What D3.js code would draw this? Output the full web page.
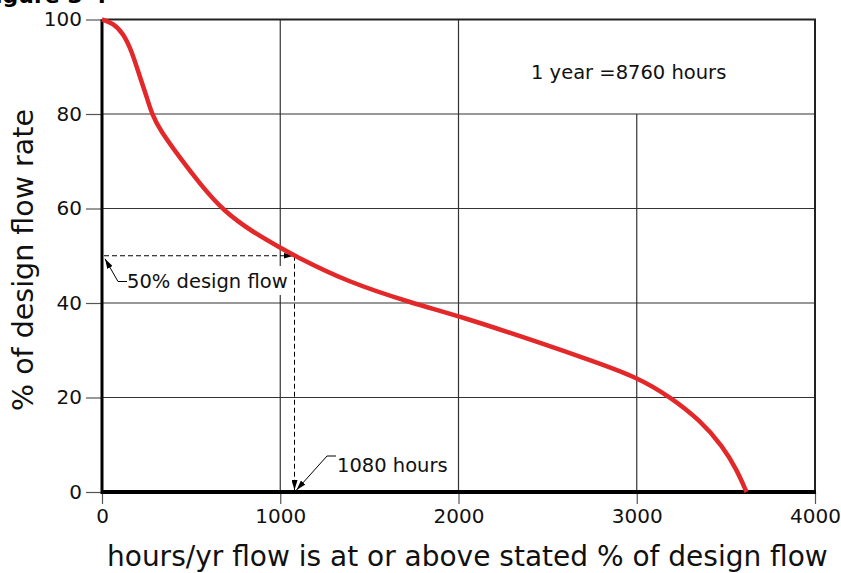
<!DOCTYPE html>
<html><head><meta charset="utf-8">
<script src="https://cdn.jsdelivr.net/npm/d3@7"></script>
<style>html,body{margin:0;padding:0;background:#fff;overflow:hidden}svg{display:block}</style>
</head><body>
<svg id="c" width="841" height="573"></svg>
<script>
const hours = [0,64,120,166,213,251,280,325,438,550,680,850,1000,1080,1373,1746,2008,2457,2738,3009,3187,3355,3484,3561,3616];
const pct   = [100,99.2,97,93.4,87.8,83.6,80,76.6,70.7,65.2,59.5,54.9,51.7,50,44.5,39.9,37.2,31.6,27.9,24.2,20.1,15.2,9.6,4.7,0];
const xTicks = [0,1000,2000,3000,4000];
const yTicks = [0,20,40,60,80,100];
const designPct = 50, designHours = 1080;
const noteText = "1 year =8760 hours";
const xTitle = "hours/yr flow is at or above stated % of design flow";
const yTitle = "% of design flow rate";

const svg = d3.select("#c");
const F = "'DejaVu Sans', Verdana, sans-serif";
const x = d3.scaleLinear().domain([0,4000]).range([102,815]);
const y = d3.scaleLinear().domain([0,100]).range([492,19.5]);

// clipped figure title
svg.append("text").attr("x",-20).attr("y",3).attr("font-family",F).attr("font-weight","bold")
  .attr("font-size",22).text("Figure 3-4");

// grid
const g = svg.append("g");
g.selectAll(".vg").data(xTicks.filter(d=>d>0 && d<4000)).join("line")
  .attr("x1",d=>x(d)).attr("x2",d=>x(d))
  .attr("y1",d=>d===3000?y(80):y(100)).attr("y2",y(0))
  .attr("stroke","#333").attr("stroke-width",1.2);
g.selectAll(".hg").data(yTicks.filter(d=>d>0 && d<100)).join("line")
  .attr("x1",x(0)).attr("x2",x(4000)).attr("y1",d=>y(d)).attr("y2",d=>y(d))
  .attr("stroke","#333").attr("stroke-width",1.2);
g.append("line").attr("x1",x(0)).attr("x2",x(4000)+1).attr("y1",y(100)).attr("y2",y(100)).attr("stroke","#222").attr("stroke-width",2);
g.append("line").attr("x1",x(4000)).attr("x2",x(4000)).attr("y1",y(100)).attr("y2",y(0)).attr("stroke","#222").attr("stroke-width",2);

// y axis
const ya = svg.append("g").attr("transform",`translate(${x(0)},0)`)
  .call(d3.axisLeft(y).tickValues(yTicks).tickFormat(d3.format("d")).tickSize(16).tickPadding(4));
ya.select(".domain").remove();
ya.selectAll(".tick line").attr("stroke","#555").attr("stroke-width",1.2);
ya.selectAll(".tick text").attr("font-family",F).attr("font-size",20).attr("fill","#111");

// x axis
const xa = svg.append("g").attr("transform",`translate(0,${y(0)})`)
  .call(d3.axisBottom(x).tickValues(xTicks).tickFormat(d3.format("d")).tickSize(12).tickPadding(5));
xa.select(".domain").remove();
xa.selectAll(".tick line").attr("stroke","#555").attr("stroke-width",1.2);
xa.selectAll(".tick text").attr("font-family",F).attr("font-size",20).attr("fill","#111");

// axis lines
svg.append("line").attr("x1",x(0)).attr("x2",x(0)).attr("y1",y(100)).attr("y2",y(0)+2).attr("stroke","#000").attr("stroke-width",3);
svg.append("line").attr("x1",x(0)-1).attr("x2",x(4000)+1).attr("y1",y(0)).attr("y2",y(0)).attr("stroke","#000").attr("stroke-width",4);

// markers
const defs = svg.append("defs");
defs.append("marker").attr("id","ah").attr("viewBox","0 0 10 6").attr("refX",10).attr("refY",3)
  .attr("markerWidth",10).attr("markerHeight",6).attr("markerUnits","userSpaceOnUse").attr("orient","auto")
  .append("path").attr("d","M0,0L10,3L0,6Z").attr("fill","#000");

// white box behind label
svg.append("rect").attr("x",118).attr("y",266).attr("width",172).attr("height",29).attr("fill","#fff");

// dashed guides
svg.append("line").attr("x1",x(0)+2).attr("x2",x(designHours)-1).attr("y1",y(designPct)).attr("y2",y(designPct))
  .attr("stroke","#000").attr("stroke-width",1).attr("stroke-dasharray","5,3").attr("marker-end","url(#ah)");
svg.append("line").attr("x1",x(designHours)).attr("x2",x(designHours)).attr("y1",y(designPct)).attr("y2",y(0)-2)
  .attr("stroke","#000").attr("stroke-width",1).attr("stroke-dasharray","5,3").attr("marker-end","url(#ah)");

// leaders
svg.append("path").attr("d",`M127,281.5L118,281.5L${x(0)+3},${y(designPct)+3}`).attr("fill","none")
  .attr("stroke","#000").attr("stroke-width",1).attr("marker-end","url(#ah)");
svg.append("path").attr("d",`M336,456L327,456L${x(designHours)+2},${y(0)-2}`).attr("fill","none")
  .attr("stroke","#000").attr("stroke-width",1).attr("marker-end","url(#ah)");

// texts
svg.append("text").attr("x",127).attr("y",288).attr("font-family",F).attr("font-size",19.5).attr("fill","#111").text(`${designPct}% design flow`);
svg.append("text").attr("x",337).attr("y",472).attr("font-family",F).attr("font-size",19.5).attr("fill","#111").text(`${designHours} hours`);
svg.append("text").attr("x",531).attr("y",79).attr("font-family",F).attr("font-size",19.5).attr("fill","#111").text(noteText);

// titles
svg.append("text").attr("x",107).attr("y",566).attr("font-family",F).attr("font-size",28).attr("fill","#111").text(xTitle);
svg.append("text").attr("transform","translate(33,260) rotate(-90)").attr("text-anchor","middle")
  .attr("font-family",F).attr("font-size",28.5).attr("fill","#111").text(yTitle);

// curve
const data = hours.map((h,i)=>[h,pct[i]]);
svg.append("path").datum(data).attr("fill","none").attr("stroke","#e3282a").attr("stroke-width",4.5)
  .attr("stroke-linecap","butt")
  .attr("d", d3.line().x(d=>x(d[0])).y(d=>y(d[1])).curve(d3.curveBasis));
</script>
</body></html>
